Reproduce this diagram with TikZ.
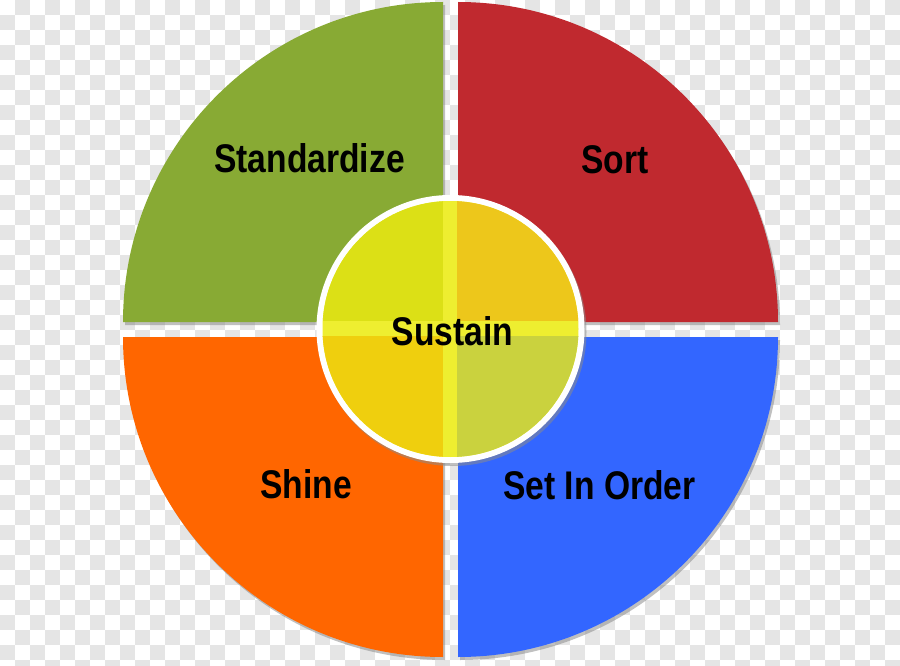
\documentclass[tikz,border=0pt]{standalone}
\usepackage{fontspec}
\newfontfamily\stagefont[FakeStretch=0.84]{Liberation Sans}
\definecolor{checkgray}{HTML}{E5E5E5}
\definecolor{sgreen}{HTML}{88AA34}
\definecolor{sred}{HTML}{C0292F}
\definecolor{sorange}{HTML}{FF6600}
\definecolor{sblue}{HTML}{3366FF}
\definecolor{band}{HTML}{EEEE30}
\definecolor{tlyellow}{HTML}{DCE016}
\definecolor{tryellow}{HTML}{EDC71B}
\definecolor{blyellow}{HTML}{EFCF0E}
\definecolor{bryellow}{HTML}{CAD23E}

\begin{document}
\begin{tikzpicture}[x=1pt, y=-1pt,
    shade/.style ={fill=black!45, opacity=0.55},
    stage/.style ={anchor=base, inner sep=0pt, font=\stagefont\bfseries\fontsize{40}{48}\selectfont}]
   \useasboundingbox (0,0) rectangle (900,666);
   \begin{scope}
     \clip (0,0) rectangle (900,666);
     \foreach \i in {0,...,59}
       \foreach \j in {0,...,22}
         \fill[checkgray] ({15*\i},{30*\j+15*mod(\i+1,2)}) rectangle +(15,15);
   \end{scope}

   \fill[shade] (445,325) -- ++(-320,0) arc[start angle=180, end angle=270, radius=320] -- cycle;
   \fill[shade] (460,325) -- ++(320,0) arc[start angle=0, end angle=-90, radius=320] -- cycle;
   \fill[shade] (445,340) -- ++(-320,0) arc[start angle=180, end angle=90, radius=320] -- cycle;
   \fill[shade] (460,340) -- ++(320,0) arc[start angle=0, end angle=90, radius=320] -- cycle;

   \fill[sgreen] (443,322) -- ++(-320,0) arc[start angle=180, end angle=270, radius=320] -- cycle;
   \fill[sred] (458,322) -- ++(320,0) arc[start angle=0, end angle=-90, radius=320] -- cycle;
   \fill[sorange] (443,337) -- ++(-320,0) arc[start angle=180, end angle=90, radius=320] -- cycle;
   \fill[sblue] (458,337) -- ++(320,0) arc[start angle=0, end angle=90, radius=320] -- cycle;

   \fill[shade] (452.5,332) circle[radius=134];
   \fill[white] (450.5,329) circle[radius=134];
   \begin{scope}
     \clip (450.5,329) circle[radius=128];
     \fill[band] (300,180) rectangle (600,480);
     \fill[tlyellow] (300,180) rectangle (443,321);
     \fill[tryellow] (457,180) rectangle (600,321);
     \fill[blyellow] (300,336) rectangle (443,480);
     \fill[bryellow] (457,336) rectangle (600,480);
   \end{scope}

   \node[stage] (standardize) at (309.5,173) {Standardize};
   \node[stage] (sort) at (615,174) {Sort};
   \node[stage] (shine) at (306,498) {Shine};
   \node[stage] (setinorder) at (599.5,499) {Set In Order};
   \node[stage] (sustain) at (452.5,345) {Sustain};
\end{tikzpicture}
\end{document}
